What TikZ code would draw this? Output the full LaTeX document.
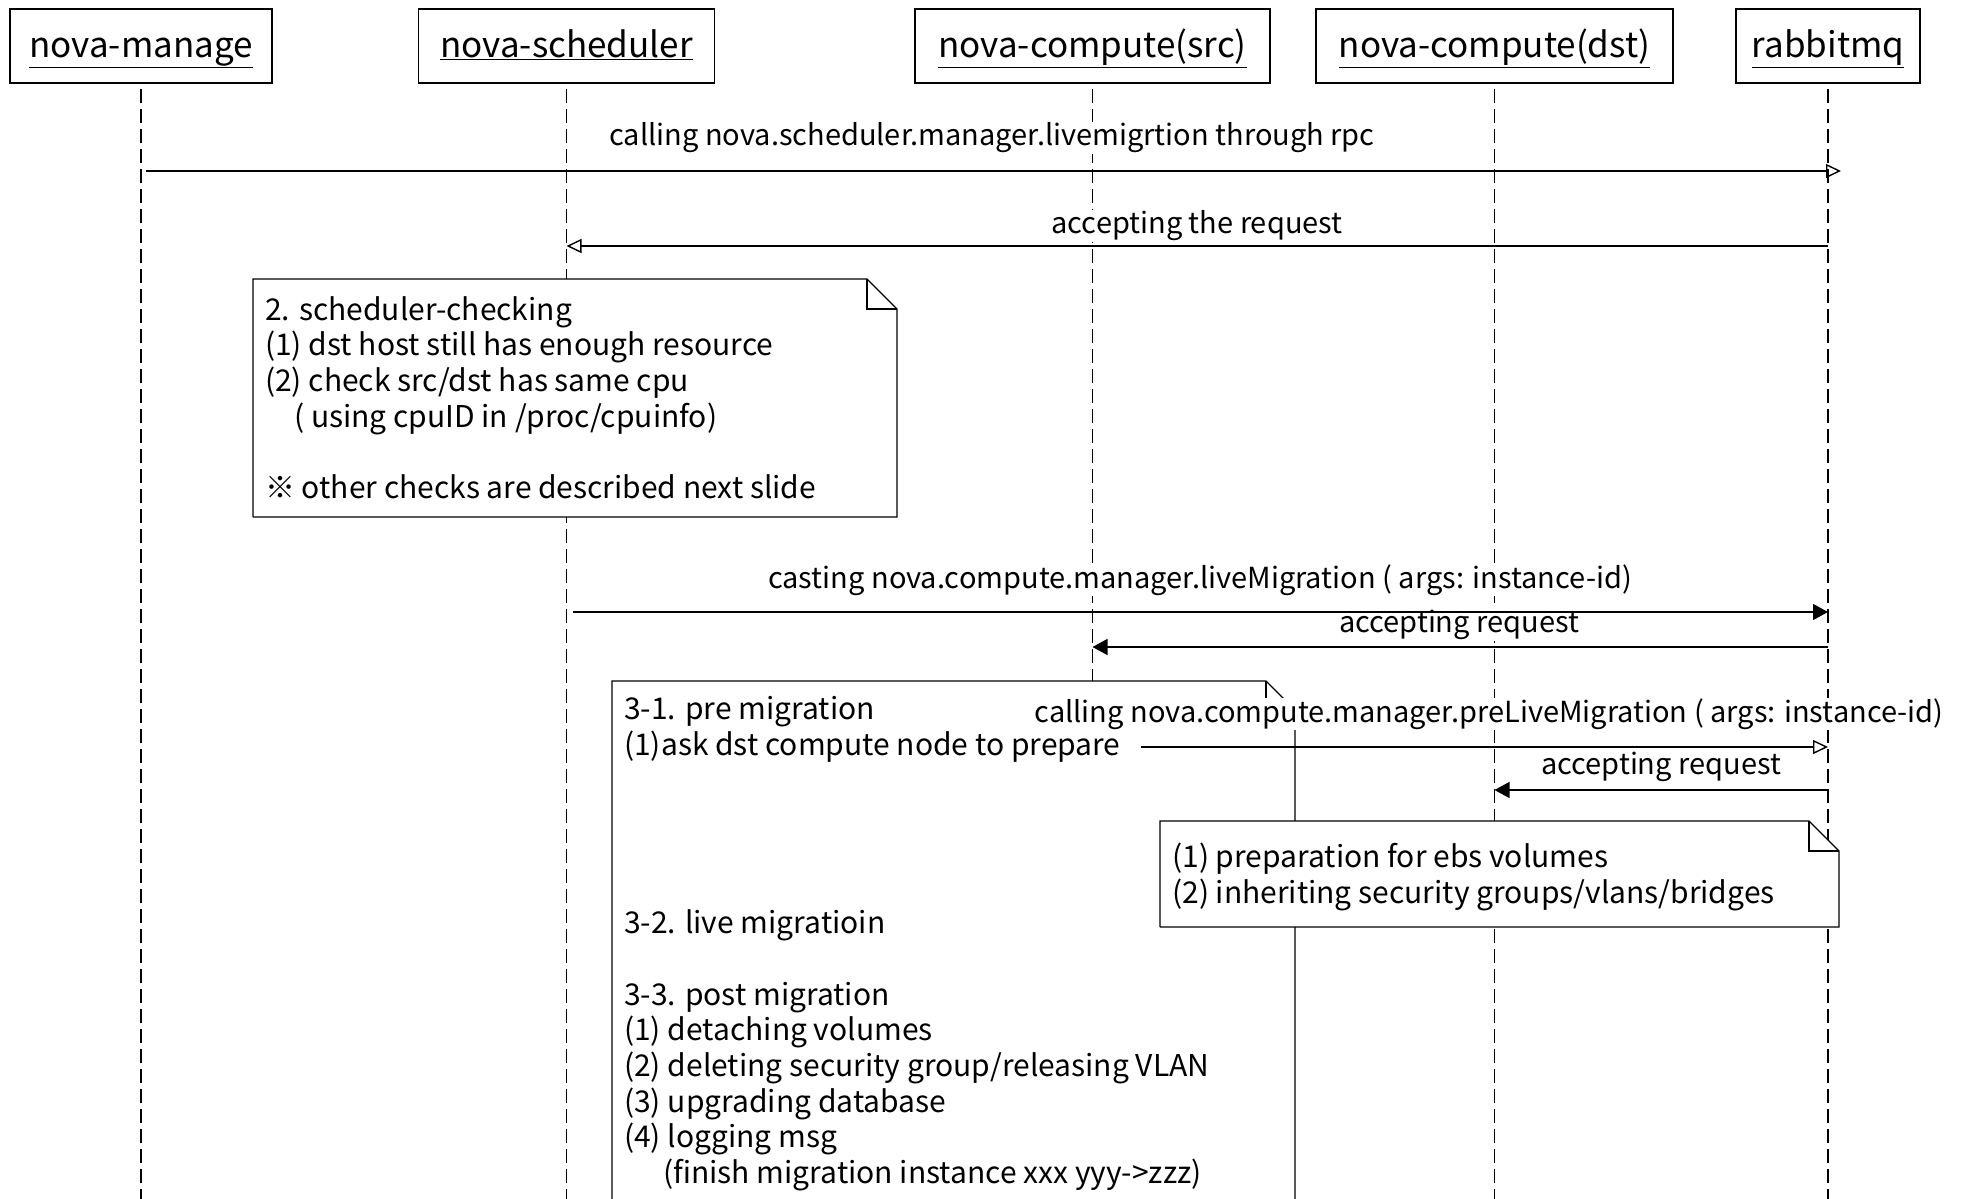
\documentclass[tikz,border=0pt]{standalone}
\usepackage{fontspec}
\setmainfont{Noto Sans CJK JP}
\usetikzlibrary{arrows.meta}
\newcommand\bodyfont{\fontsize{29}{35.7}\selectfont}
\newcommand\notefont{\fontsize{30}{35.7}\selectfont}
\newcommand\headfont{\fontsize{35}{40}\selectfont}
\newcommand\drawnote[5]{% x1 y1 x2 y2 ear
  \fill[white] (#1,#2) -- ({#3-#5},#2) -- (#3,{#2+#5}) -- (#3,#4) -- (#1,#4) -- cycle;
  \draw[noteline] (#1,#4) -- (#1,#2) -- ({#3-#5},#2) -- (#3,{#2+#5}) -- (#3,#4) -- (#1,#4);
  \draw[noteline] ({#3-#5},#2) -- ({#3-#5},{#2+#5}) -- (#3,{#2+#5});
}
\begin{document}
\begin{tikzpicture}[x=1pt,y=-1pt,
  actor/.style={draw, line width=1.4pt, minimum height=74pt, inner sep=0pt, font=\headfont, text height=27pt, text depth=4pt},
  life/.style={line width=1.3pt, dash pattern=on 14pt off 6pt},
  msg/.style={line width=1.4pt},
  openhead/.style={-{Triangle[open,length=15pt,width=14pt,line width=1.4pt]}},
  fillhead/.style={-{Triangle[length=15pt,width=16pt]}},
  lbl/.style={fill=white, inner sep=1pt, font=\bodyfont},
  notetext/.style={anchor=north west, align=left, inner sep=0pt, font=\notefont},
  noteline/.style={line width=1.3pt}]
\useasboundingbox (0,0) rectangle (1962,1199);

% actors
\node[actor, minimum width=262pt] (manage) at (141,46) {\underline{nova-manage}};
\node[actor, minimum width=296pt] (sched) at (566.5,46) {\underline{nova-scheduler}};
\node[actor, minimum width=355pt] (src) at (1092.5,46) {\underline{nova-compute(src)}};
\node[actor, minimum width=357pt] (dst) at (1494.5,46) {\underline{nova-compute(dst)}};
\node[actor, minimum width=184pt] (rabbit) at (1828,46) {\underline{rabbitmq}};

% lifelines
\coordinate (manageEnd) at (141,1199);
\coordinate (schedEnd) at (566.5,1199);
\coordinate (srcEnd) at (1092.5,1199);
\coordinate (dstEnd) at (1494.5,1199);
\coordinate (rabbitEnd) at (1828,1199);
\draw[life] (manage.south) ++(0,5) -- (manageEnd);
\draw[life] (sched.south) ++(0,5) -- (schedEnd);
\draw[life] (src.south) ++(0,5) -- (srcEnd);
\draw[life] (dst.south) ++(0,5) -- (dstEnd);
\draw[life] (rabbit.south) ++(0,5) -- (rabbitEnd);

% note 1
\drawnote{253}{279}{897}{517}{30}
\node[notetext] (note1) at (265,296) {2. scheduler-checking\\
(1) dst host still has enough resource\\
(2) check src/dst has same cpu\\
\hspace*{29pt}( using cpuID in /proc/cpuinfo)\\[35.7pt]
※ other checks are described next slide};

% big note (runs off the bottom)
\drawnote{612}{681}{1295}{1215}{29}
\node[notetext] (note2) at (624,696) {3-1. pre migration\\
(1)ask dst compute node to prepare\\[142.8pt]
3-2. live migratioin\\[35.7pt]
3-3. post migration\\
(1) detaching volumes\\
(2) deleting security group/releasing VLAN\\
(3) upgrading database\\
(4) logging msg\\
\hspace*{39pt}(finish migration instance xxx yyy->zzz)};

% message labels
\node[lbl] (l1) at (992,138) {calling nova.scheduler.manager.livemigrtion through rpc};
\node[lbl] (l2) at (1197,226) {accepting the request};
\node[lbl] (l3) at (1200,580) {casting nova.compute.manager.liveMigration ( args: instance-id)};
\node[lbl] (l4) at (1459,625) {accepting request};
\node[lbl] (l5) at (1489,714) {calling nova.compute.manager.preLiveMigration ( args: instance-id)};
\node[lbl] (l6) at (1661,767) {accepting request};

% message endpoints
\coordinate (a1s) at (146,171);   \coordinate (a1e) at (1841,171);
\coordinate (a2s) at (1828,246);  \coordinate (a2e) at (566.5,246);
\coordinate (a3s) at (573,612);   \coordinate (a3e) at (1828,612);
\coordinate (a4s) at (1828,647);  \coordinate (a4e) at (1092.5,647);
\coordinate (a5s) at (1141,747);  \coordinate (a5e) at (1828,747);
\coordinate (a6s) at (1828,790);  \coordinate (a6e) at (1494.5,790);

\draw[msg, openhead] (a1s) -- (a1e);
\draw[msg, openhead] (a2s) -- (a2e);
\draw[msg, fillhead] (a3s) -- (a3e);
\draw[msg, fillhead] (a4s) -- (a4e);
\draw[msg, openhead] (a5s) -- (a5e);
\draw[msg, fillhead] (a6s) -- (a6e);

% note 3
\drawnote{1160}{821}{1839}{927}{30}
\node[notetext] (note3) at (1172,843) {(1) preparation for ebs volumes\\
(2) inheriting security groups/vlans/bridges};
\end{tikzpicture}
\end{document}
